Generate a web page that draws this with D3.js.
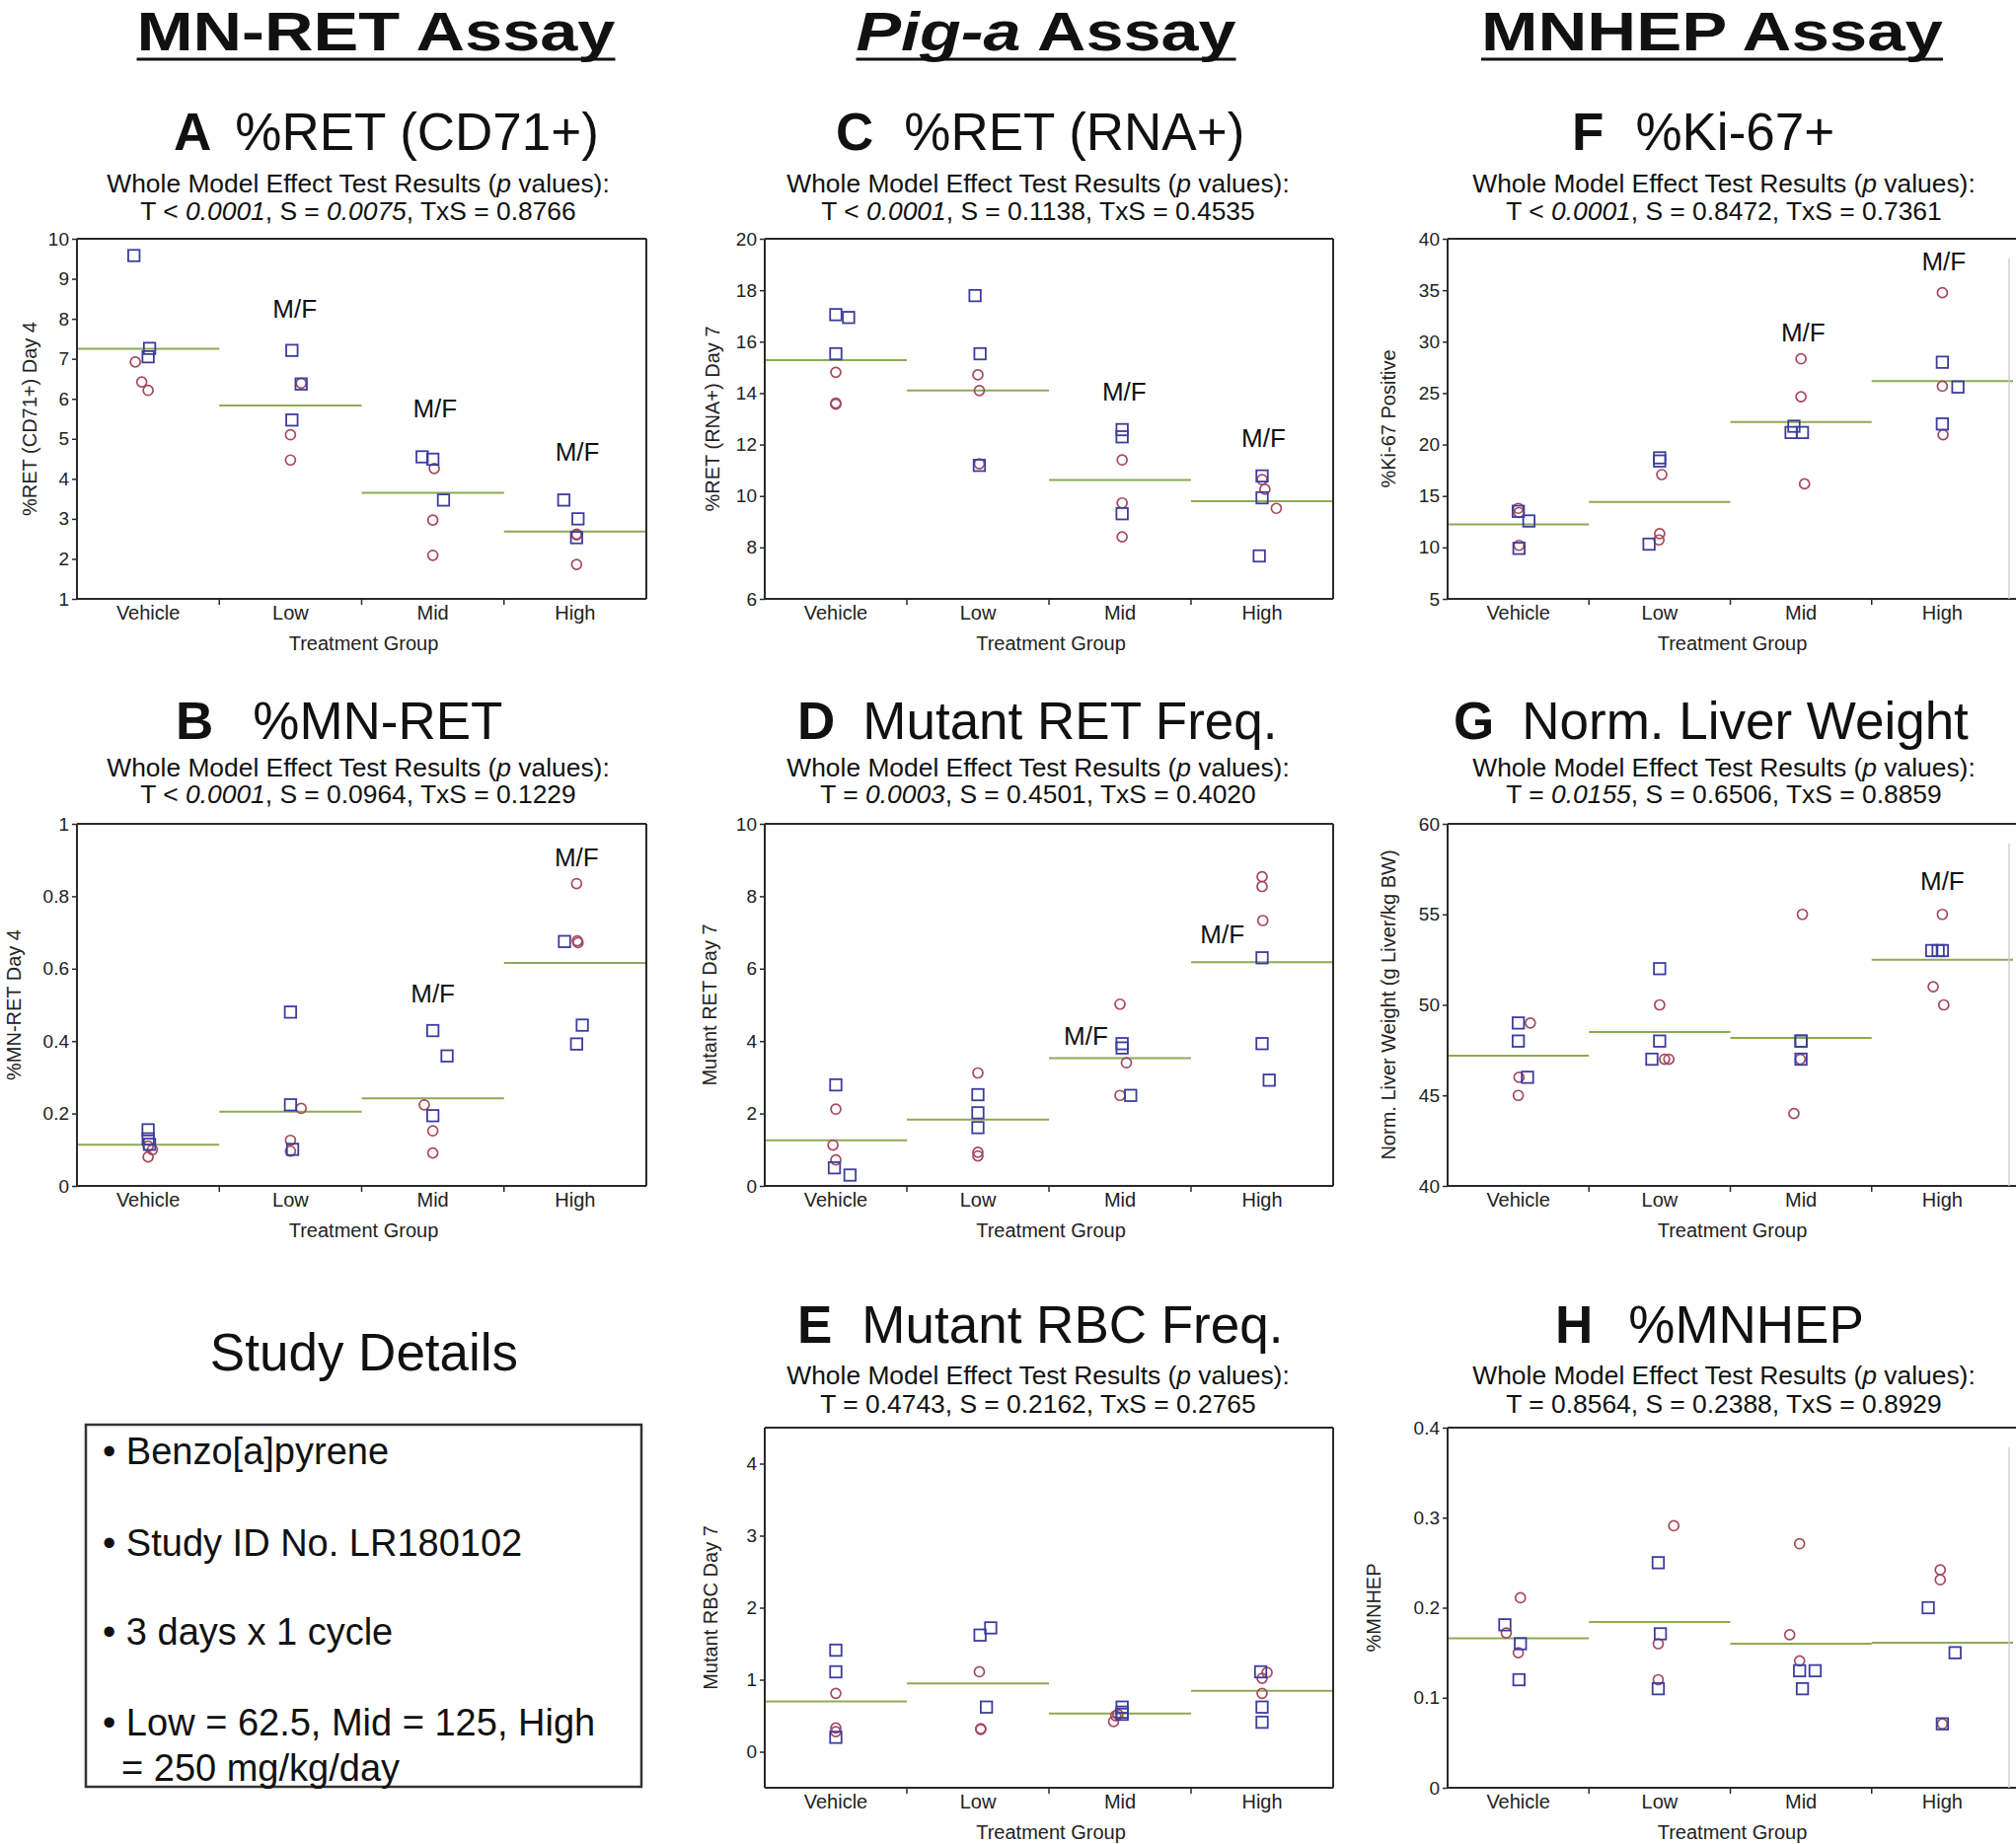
<!DOCTYPE html>
<html><head><meta charset="utf-8">
<script src="https://cdn.jsdelivr.net/npm/d3@7"></script>
<style>
body{margin:0;background:#fff;}
svg{display:block;font-family:"Liberation Sans", Arial, Helvetica, sans-serif;}
</style>
</head><body>
<svg id="fig" width="2043" height="1869"></svg>
<script>
// ---------------- DATA ----------------
const groups = ["Vehicle", "Low", "Mid", "High"];
const xAxisTitle = "Treatment Group";
const assayHeaders = ["MN-RET Assay", "Pig-a Assay", "MNHEP Assay"];
const subtitleText = "Whole Model Effect Test Results (p values):";

// A  %RET (CD71+)
const retCd71Male = [[9.58, 7.26, 7.05], [7.21, 6.37, 5.47], [4.55, 4.49, 3.47], [3.47, 3.00, 2.53]];
const retCd71Female = [[6.92, 6.42, 6.21], [6.39, 5.10, 4.47], [4.26, 2.97, 2.09], [2.62, 2.60, 1.86]];
const retCd71MaleJit = [[-0.10, 0.01, 0.00], [0.01, 0.075, 0.01], [-0.075, 0.00, 0.075], [-0.08, 0.02, 0.01]];
const retCd71FemaleJit = [[-0.09, -0.045, 0.00], [0.075, 0.00, 0.00], [0.01, 0.00, 0.00], [0.01, 0.01, 0.01]];
const retCd71Mean = [7.25, 5.83, 3.65, 2.68];
const retCd71MF = [null, 8.03, 5.53, 4.44];
const retCd71Ticks = [1, 2, 3, 4, 5, 6, 7, 8, 9, 10];

// B  %MN-RET
const mnRetMale = [[0.155, 0.13, 0.115], [0.48, 0.224, 0.101], [0.429, 0.359, 0.194], [0.675, 0.444, 0.392]];
const mnRetFemale = [[0.11, 0.10, 0.08], [0.214, 0.126, 0.096], [0.224, 0.152, 0.091], [0.835, 0.677, 0.672]];
const mnRetMaleJit = [[0.00, 0.00, 0.01], [0.00, 0.00, 0.015], [0.00, 0.10, 0.00], [-0.075, 0.05, 0.01]];
const mnRetFemaleJit = [[0.00, 0.03, 0.00], [0.075, 0.00, 0.00], [-0.06, 0.00, 0.00], [0.01, 0.015, 0.02]];
const mnRetMean = [0.114, 0.205, 0.242, 0.616];
const mnRetMF = [null, null, 0.507, 0.884];
const mnRetTicks = [0, 0.2, 0.4, 0.6, 0.8, 1];

// C  %RET (RNA+)
const retRnaMale = [[17.05, 16.94, 15.53], [17.79, 15.53, 11.19], [12.58, 12.30, 9.31], [10.78, 9.93, 7.67]];
const retRnaFemale = [[14.81, 13.61, 13.57], [14.71, 14.10, 11.25], [11.40, 9.73, 8.41], [10.64, 10.26, 9.52]];
const retRnaMaleJit = [[0.00, 0.09, 0.00], [-0.02, 0.015, 0.01], [0.015, 0.015, 0.015], [0.00, 0.00, -0.02]];
const retRnaFemaleJit = [[0.00, 0.00, 0.00], [0.00, 0.01, 0.01], [0.015, 0.015, 0.015], [0.00, 0.02, 0.10]];
const retRnaMean = [15.28, 14.10, 10.62, 9.80];
const retRnaMF = [null, null, 13.7, 11.9];
const retRnaTicks = [6, 8, 10, 12, 14, 16, 18, 20];

// D  Mutant RET Freq.
const mutRetMale = [[2.79, 0.50, 0.30], [2.52, 2.02, 1.61], [3.93, 3.81, 2.50], [6.30, 3.93, 2.92]];
const mutRetFemale = [[2.12, 1.13, 0.72], [3.12, 0.93, 0.83], [5.02, 3.40, 2.50], [8.54, 8.27, 7.33]];
const mutRetMaleJit = [[0.00, -0.01, 0.10], [0.00, 0.00, 0.00], [0.015, 0.015, 0.075], [0.00, 0.00, 0.05]];
const mutRetFemaleJit = [[0.00, -0.02, 0.00], [0.00, 0.00, 0.00], [0.00, 0.045, 0.00], [0.00, 0.00, 0.005]];
const mutRetMean = [1.26, 1.83, 3.53, 6.18];
const mutRetMF = [null, null, 3.91, 6.70];
const mutRetTicks = [0, 2, 4, 6, 8, 10];

// E  Mutant RBC Freq.
const mutRbcMale = [[1.41, 1.11, 0.20], [1.72, 1.62, 0.62], [0.62, 0.55, 0.52], [1.11, 0.62, 0.41]];
const mutRbcFemale = [[0.81, 0.33, 0.28], [1.11, 0.32, 0.31], [0.52, 0.50, 0.42], [1.10, 1.02, 0.81]];
const mutRbcMaleJit = [[0.00, 0.00, 0.00], [0.09, 0.015, 0.06], [0.015, 0.015, 0.015], [-0.01, 0.00, 0.00]];
const mutRbcFemaleJit = [[0.00, 0.00, 0.00], [0.01, 0.02, 0.02], [-0.015, -0.03, -0.045], [0.035, 0.00, 0.00]];
const mutRbcMean = [0.70, 0.95, 0.53, 0.845];
const mutRbcMF = [null, null, null, null];
const mutRbcTicks = [0, 1, 2, 3, 4];

// F  %Ki-67+
const ki67Male = [[13.51, 12.57, 9.91], [18.71, 18.40, 10.32], [21.78, 21.17, 21.17], [28.00, 25.59, 22.00]];
const ki67Female = [[13.80, 13.39, 10.20], [17.08, 11.34, 10.73], [28.33, 24.65, 16.18], [34.76, 25.67, 20.96]];
const ki67MaleJit = [[0.00, 0.075, 0.005], [0.00, 0.00, -0.075], [-0.05, -0.07, 0.01], [0.00, 0.11, 0.00]];
const ki67FemaleJit = [[0.00, 0.005, 0.005], [0.015, 0.00, -0.005], [0.00, 0.00, 0.025], [0.00, 0.00, 0.005]];
const ki67Mean = [12.24, 14.41, 22.19, 26.16];
const ki67MF = [null, null, 30.05, 36.9];
const ki67Ticks = [5, 10, 15, 20, 25, 30, 35, 40];

// G  Norm. Liver Weight
const liverMale = [[49, 48, 46], [52, 48, 47], [48, 48, 47], [53, 53, 53]];
const liverFemale = [[49, 46, 45], [50, 47, 47], [55, 47, 44], [55, 51, 50]];
const liverMaleJit = [[0.00, 0.00, 0.065], [0.00, 0.00, -0.055], [0.00, 0.00, 0.00], [-0.075, 0.00, -0.03]];
const liverFemaleJit = [[0.085, 0.005, 0.00], [0.00, 0.065, 0.035], [0.01, -0.005, -0.05], [0.00, -0.065, 0.01]];
const liverMean = [47.2, 48.5, 48.17, 52.5];
const liverMF = [null, null, null, 56.33];
const liverTicks = [40, 45, 50, 55, 60];

// H  %MNHEP
const mnhepMale = [[0.181, 0.160, 0.120], [0.250, 0.171, 0.110], [0.130, 0.130, 0.110], [0.200, 0.150, 0.071]];
const mnhepFemale = [[0.211, 0.172, 0.150], [0.291, 0.160, 0.120], [0.271, 0.170, 0.141], [0.242, 0.231, 0.071]];
const mnhepMaleJit = [[-0.095, 0.015, 0.005], [-0.01, 0.005, -0.01], [-0.01, 0.10, 0.01], [-0.10, 0.09, 0.00]];
const mnhepFemaleJit = [[0.015, -0.085, 0.00], [0.10, -0.01, -0.01], [-0.01, -0.08, -0.01], [-0.015, -0.015, 0.00]];
const mnhepMean = [0.166, 0.184, 0.160, 0.161];
const mnhepMF = [null, null, null, null];
const mnhepTicks = [0, 0.1, 0.2, 0.3, 0.4];

// p-value lines: [text, italic?]
const pA = [["T < ", 0], ["0.0001", 1], [", S = ", 0], ["0.0075", 1], [", TxS = 0.8766", 0]];
const pB = [["T < ", 0], ["0.0001", 1], [", S = 0.0964, TxS = 0.1229", 0]];
const pC = [["T < ", 0], ["0.0001", 1], [", S = 0.1138, TxS = 0.4535", 0]];
const pD = [["T = ", 0], ["0.0003", 1], [", S = 0.4501, TxS = 0.4020", 0]];
const pE = [["T = 0.4743, S = 0.2162, TxS = 0.2765", 0]];
const pF = [["T < ", 0], ["0.0001", 1], [", S = 0.8472, TxS = 0.7361", 0]];
const pG = [["T = ", 0], ["0.0155", 1], [", S = 0.6506, TxS = 0.8859", 0]];
const pH = [["T = 0.8564, S = 0.2388, TxS = 0.8929", 0]];

const studyTitle = "Study Details";
const studyDetails = ["• Benzo[a]pyrene", "• Study ID No. LR180102", "• 3 days x 1 cycle", "• Low = 62.5, Mid = 125, High", "= 250 mg/kg/day"];

// ---------------- LAYOUT / STYLE ----------------
const svg = d3.select("#fig");
svg.append("rect").attr("width", 2043).attr("height", 1869).attr("fill", "#fff");

const INK = "#111";
const SQ_COLOR = "#3d3d9e";
const CI_COLOR = "#a5485e";
const MEAN_COLOR = "#8cab52";
const FRAME = "#2a2a2a";

const colX = [{l: 78, r: 655, edge: 655}, {l: 775, r: 1351, edge: 1351}, {l: 1467, r: 2040, edge: 2043}];
const rowY = [
  {t: 242, b: 607, title: 152, s1: 195, s2: 223},
  {t: 835, b: 1202, title: 749, s1: 787, s2: 814},
  {t: 1447, b: 1812, title: 1361, s1: 1403, s2: 1432}
];
const subCenter = [363, 1052, 1747];

const panels = [
  {key: "A", title: "%RET (CD71+)", col: 0, row: 0, tx: 176, gap: 24, p: pA, yLabel: "%RET (CD71+) Day 4", yOff: 48,
   domain: [1, 10], ticks: retCd71Ticks, male: retCd71Male, female: retCd71Female, mJit: retCd71MaleJit, fJit: retCd71FemaleJit,
   mean: retCd71Mean, mf: retCd71MF, mfDx: [0, 0.03, 0.015, 0.015]},
  {key: "B", title: "%MN-RET", col: 0, row: 1, tx: 178, gap: 40, p: pB, yLabel: "%MN-RET Day 4", yOff: 64,
   domain: [0, 1], ticks: mnRetTicks, male: mnRetMale, female: mnRetFemale, mJit: mnRetMaleJit, fJit: mnRetFemaleJit,
   mean: mnRetMean, mf: mnRetMF, mfDx: [0, 0, 0, 0.01]},
  {key: "C", title: "%RET (RNA+)", col: 1, row: 0, tx: 847, gap: 31, p: pC, yLabel: "%RET (RNA+) Day 7", yOff: 53,
   domain: [6, 20], ticks: retRnaTicks, male: retRnaMale, female: retRnaFemale, mJit: retRnaMaleJit, fJit: retRnaFemaleJit,
   mean: retRnaMean, mf: retRnaMF, mfDx: [0, 0, 0.03, 0.01]},
  {key: "D", title: "Mutant RET Freq.", col: 1, row: 1, tx: 808, gap: 28, p: pD, yLabel: "Mutant RET Day 7", yOff: 56,
   domain: [0, 10], ticks: mutRetTicks, male: mutRetMale, female: mutRetFemale, mJit: mutRetMaleJit, fJit: mutRetFemaleJit,
   mean: mutRetMean, mf: mutRetMF, mfDx: [0, 0, -0.24, -0.28]},
  {key: "E", title: "Mutant RBC Freq.", col: 1, row: 2, tx: 808, gap: 30, p: pE, yLabel: "Mutant RBC Day 7", yOff: 55,
   domain: [-0.5, 4.5], ticks: mutRbcTicks, male: mutRbcMale, female: mutRbcFemale, mJit: mutRbcMaleJit, fJit: mutRbcFemaleJit,
   mean: mutRbcMean, mf: mutRbcMF, mfDx: [0, 0, 0, 0]},
  {key: "F", title: "%Ki-67+", col: 2, row: 0, tx: 1593, gap: 32, p: pF, yLabel: "%Ki-67 Positive", yOff: 60,
   domain: [5, 40], ticks: ki67Ticks, male: ki67Male, female: ki67Female, mJit: ki67MaleJit, fJit: ki67FemaleJit,
   mean: ki67Mean, mf: ki67MF, mfDx: [0, 0, 0.015, 0.01]},
  {key: "G", title: "Norm. Liver Weight", col: 2, row: 1, tx: 1473, gap: 28, p: pG, yLabel: "Norm. Liver Weight (g Liver/kg BW)", yOff: 60,
   domain: [40, 60], ticks: liverTicks, male: liverMale, female: liverFemale, mJit: liverMaleJit, fJit: liverFemaleJit,
   mean: liverMean, mf: liverMF, mfDx: [0, 0, 0, 0.0]},
  {key: "H", title: "%MNHEP", col: 2, row: 2, tx: 1576, gap: 36, p: pH, yLabel: "%MNHEP", yOff: 75,
   domain: [0, 0.4], ticks: mnhepTicks, male: mnhepMale, female: mnhepFemale, mJit: mnhepMaleJit, fJit: mnhepFemaleJit,
   mean: mnhepMean, mf: mnhepMF, mfDx: [0, 0, 0, 0]}
];

function drawPanel(P) {
  const cx = colX[P.col], ry = rowY[P.row];
  const x = d3.scaleBand().domain(groups).range([cx.l, cx.r]);
  const bw = x.bandwidth();
  const y = d3.scaleLinear().domain(P.domain).range([ry.b, ry.t]);
  const g = svg.append("g").attr("class", "panel-" + P.key);

  // Title
  const t = g.append("text").attr("x", P.tx).attr("y", ry.title)
    .attr("font-size", 53).attr("fill", INK);
  t.append("tspan").attr("font-weight", "bold").text(P.key);
  t.append("tspan").attr("dx", P.gap).text(P.title);

  // Subtitle line 1
  const s1 = g.append("text").attr("x", subCenter[P.col]).attr("y", ry.s1)
    .attr("text-anchor", "middle").attr("font-size", 26.4).attr("fill", INK);
  const parts = subtitleText.split("(p ");
  s1.append("tspan").text(parts[0] + "(");
  s1.append("tspan").attr("font-style", "italic").text("p");
  s1.append("tspan").text(" " + parts[1]);

  // Subtitle line 2 (p values)
  const s2 = g.append("text").attr("x", subCenter[P.col]).attr("y", ry.s2)
    .attr("text-anchor", "middle").attr("font-size", 26.4).attr("fill", INK);
  P.p.forEach(seg => {
    s2.append("tspan").attr("font-style", seg[1] ? "italic" : "normal").text(seg[0]);
  });

  // Mean lines
  g.append("g").selectAll("line").data(P.mean).join("line")
    .attr("x1", (d, i) => x(groups[i]))
    .attr("x2", (d, i) => Math.min(x(groups[i]) + bw, cx.edge))
    .attr("y1", d => y(d)).attr("y2", d => y(d))
    .attr("stroke", MEAN_COLOR).attr("stroke-width", 2);

  // Points
  const flat = (arr, jit) => groups.flatMap((gn, i) => arr[i].map((v, k) => ({g: gn, v: v, j: jit[i][k]})));
  const females = flat(P.female, P.fJit);
  const males = flat(P.male, P.mJit);
  const px = d => x(d.g) + bw / 2 + d.j * bw;

  g.append("g").selectAll("circle").data(females).join("circle")
    .attr("cx", px).attr("cy", d => y(d.v)).attr("r", 5)
    .attr("fill", "none").attr("stroke", CI_COLOR).attr("stroke-width", 1.7);

  const S = 11.5;
  g.append("g").selectAll("rect").data(males).join("rect")
    .attr("x", d => px(d) - S / 2).attr("y", d => y(d.v) - S / 2)
    .attr("width", S).attr("height", S)
    .attr("fill", "none").attr("stroke", SQ_COLOR).attr("stroke-width", 1.8);

  // M/F annotations
  const mfData = P.mf.map((v, i) => ({v: v, g: groups[i], dx: P.mfDx[i]})).filter(d => d.v !== null);
  g.append("g").selectAll("text").data(mfData).join("text")
    .attr("x", d => x(d.g) + bw / 2 + d.dx * bw).attr("y", d => y(d.v))
    .attr("text-anchor", "middle").attr("font-size", 26).attr("fill", INK).text("M/F");

  // Frame
  const fr = g.append("g").attr("stroke", FRAME).attr("stroke-width", 2).attr("fill", "none");
  fr.append("line").attr("x1", cx.l).attr("x2", cx.edge).attr("y1", ry.t).attr("y2", ry.t);
  fr.append("line").attr("x1", cx.l).attr("x2", cx.edge).attr("y1", ry.b).attr("y2", ry.b);
  fr.append("line").attr("x1", cx.l).attr("x2", cx.l).attr("y1", ry.t).attr("y2", ry.b);
  if (cx.edge === cx.r) {
    fr.append("line").attr("x1", cx.r).attr("x2", cx.r).attr("y1", ry.t).attr("y2", ry.b);
  } else {
    g.append("line").attr("x1", 2036).attr("x2", 2036).attr("y1", ry.t + 20).attr("y2", ry.b)
      .attr("stroke", "#cfcfcf").attr("stroke-width", 1.5);
  }

  // Y axis
  const ya = g.append("g").attr("transform", `translate(${cx.l},0)`)
    .call(d3.axisLeft(y).tickValues(P.ticks).tickSize(5).tickPadding(3).tickFormat(d3.format("~g")));
  ya.select(".domain").remove();
  ya.attr("font-family", null).attr("font-size", null);
  ya.selectAll("text").attr("font-size", 19).attr("fill", "#222");
  ya.selectAll("line").attr("stroke", FRAME).attr("stroke-width", 1.5);

  // X axis (category labels)
  const xa = g.append("g").attr("transform", `translate(0,${ry.b})`)
    .call(d3.axisBottom(x).tickSize(0).tickPadding(7));
  xa.select(".domain").remove();
  xa.attr("font-family", null).attr("font-size", null);
  xa.selectAll("text").attr("font-size", 20).attr("fill", "#222");
  // separator ticks
  g.append("g").selectAll("line").data(groups.slice(1)).join("line")
    .attr("x1", d => x(d)).attr("x2", d => x(d))
    .attr("y1", ry.b).attr("y2", ry.b + 6)
    .attr("stroke", FRAME).attr("stroke-width", 1.5);

  // X title
  g.append("text").attr("x", (cx.l + Math.min(cx.r, cx.edge)) / 2 + 2).attr("y", ry.b + 52)
    .attr("text-anchor", "middle").attr("font-size", 20).attr("fill", "#222").text(xAxisTitle);

  // Y title
  g.append("text")
    .attr("transform", `translate(${cx.l - P.yOff},${(ry.t + ry.b) / 2}) rotate(-90)`)
    .attr("text-anchor", "middle").attr("dy", "0.35em")
    .attr("font-size", 20).attr("fill", "#222").text(P.yLabel);
}

panels.forEach(drawPanel);

// Assay headers
const headerPos = [{cx: 381, w: 485}, {cx: 1060, w: 385}, {cx: 1735, w: 468}];
assayHeaders.forEach((h, i) => {
  const hp = headerPos[i];
  const t = svg.append("text").attr("x", hp.cx).attr("y", 51)
    .attr("text-anchor", "middle").attr("font-size", 56).attr("font-weight", "bold").attr("fill", INK)
    .attr("textLength", hp.w).attr("lengthAdjust", "spacingAndGlyphs");
  if (h.startsWith("Pig-a")) {
    t.append("tspan").attr("font-style", "italic").text("Pig-a");
    t.append("tspan").text(h.slice(5));
  } else {
    t.text(h);
  }
  svg.append("line").attr("x1", hp.cx - hp.w / 2).attr("x2", hp.cx + hp.w / 2)
    .attr("y1", 60).attr("y2", 60).attr("stroke", INK).attr("stroke-width", 3);
});

// Study details
svg.append("text").attr("x", 369).attr("y", 1389).attr("text-anchor", "middle")
  .attr("font-size", 53).attr("fill", INK).text(studyTitle);
svg.append("rect").attr("x", 87).attr("y", 1444).attr("width", 563).attr("height", 367)
  .attr("fill", "none").attr("stroke", "#333").attr("stroke-width", 2.5);
const detailY = [1484, 1577, 1667, 1759, 1805];
const detailX = [104, 104, 104, 104, 123];
svg.append("g").selectAll("text").data(studyDetails).join("text")
  .attr("x", (d, i) => detailX[i]).attr("y", (d, i) => detailY[i])
  .attr("font-size", 38).attr("fill", INK).text(d => d);
</script>
</body></html>
